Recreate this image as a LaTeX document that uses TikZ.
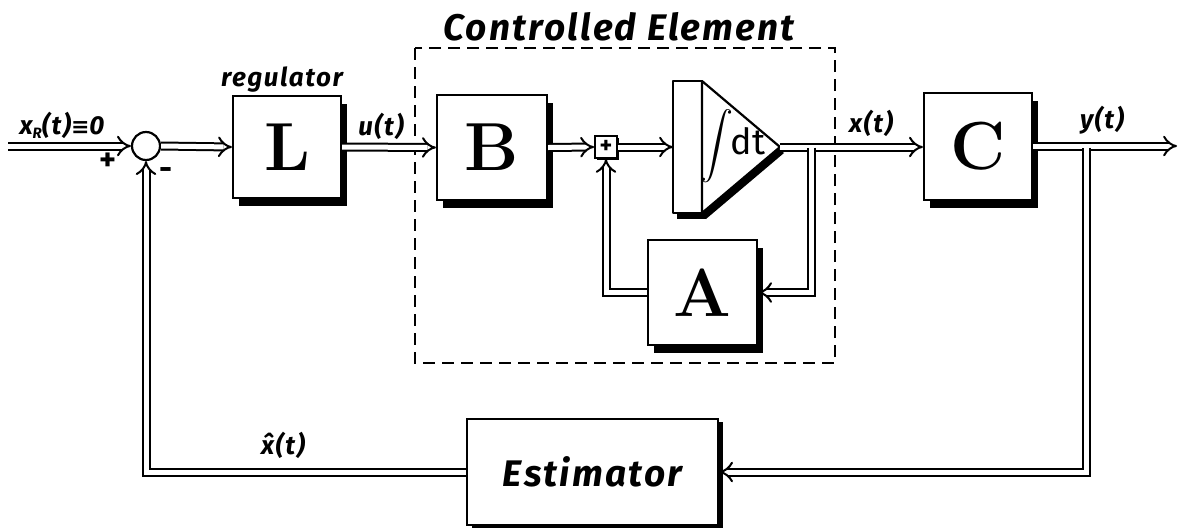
\documentclass[tikz,border=0pt]{standalone}
\usepackage{fontspec}
\usepackage{graphicx}
\newfontfamily\hand{Fira Sans}[LetterSpace=6]
\newfontfamily\handn{Fira Sans}
\newfontfamily\symf{DejaVu Sans}
\usetikzlibrary{arrows.meta,shadows,calc}
\begin{document}
\begin{tikzpicture}[x=1pt,y=-1pt,
  blk/.style={draw, line width=2.2pt, fill=white, inner sep=0pt,
    font=\fontsize{68}{68}\selectfont\bfseries,
    drop shadow={shadow xshift=6pt, shadow yshift=-8pt, fill=black, opacity=1}},
  sig/.style={double distance=5pt, line width=2pt, -{Implies[scale=1.3]}},
  lab/.style={font=\hand\bfseries\itshape\fontsize{26}{26}\selectfont, inner sep=0pt},
  title/.style={font=\hand\bfseries\itshape\fontsize{37}{37}\selectfont, inner sep=0pt},
]
\useasboundingbox (0,0) rectangle (1180,531);

% dashed frame of controlled element
\draw[line width=2pt, dash pattern=on 12pt off 7pt] (415,48) rectangle (835,363);
\node[title] (cet) at (619,27) {Controlled Element};

% blocks
\node[blk, minimum width=108pt, minimum height=102pt] (L) at (287,147) {L};
\node[blk, minimum width=110pt, minimum height=105pt] (B) at (492,147.5) {B};
\node[blk, minimum width=109pt, minimum height=105pt] (A) at (702.5,292.5) {A};
\node[blk, minimum width=108pt, minimum height=107pt] (C) at (978,146.5) {C};
\node[draw, line width=2.2pt, fill=white, minimum width=251pt, minimum height=106pt,
  drop shadow={shadow xshift=5pt, shadow yshift=-3pt, fill=black, opacity=1},
  title] (E) at (592.5,472) {Estimator};

% summing junctions
\node[draw, circle, line width=2.2pt, fill=white, minimum size=28pt, inner sep=0pt] (S) at (146,146) {};
\node[draw, line width=1.8pt, fill=white, minimum size=22pt, inner sep=0pt,
  font=\handn\bfseries\fontsize{24}{24}\selectfont,
  drop shadow={shadow xshift=2pt, shadow yshift=-2pt, fill=black, opacity=1}] (P) at (606,147) {+};

% integrator
\begin{scope}[shift={(4,6)}]
  \fill (673,81) rectangle (702,213);
  \fill (702,81) -- (780,147) -- (702,213) -- cycle;
\end{scope}
\draw[line width=2.2pt, fill=white, line join=round] (673,81) rectangle (702,213);
\draw[line width=2.2pt, fill=white, line join=round] (702,81) -- (780,147) -- (702,213) -- cycle;
\node[inner sep=0pt] (intg) at (733,146) {\scalebox{3.3}{$\displaystyle\int$}\hspace{-3pt}{\handn\fontsize{36}{36}\selectfont dt}};
\coordinate (intin) at (673,147);
\coordinate (intout) at (780,147);

% coordinates for free ends and branches
\coordinate (in) at (8,146);
\coordinate (out) at (1177,146);
\coordinate (br1) at (811,147.5);
\coordinate (br2) at (1086,147.5);

% signal lines
\draw[sig] (in) -- (S.west);
\draw[sig] (S.east) -- (L.west);
\draw[sig] (L.east) -- (B.west);
\draw[sig] (B.east) -- (P.west);
\draw[sig] (P.east) -- (intin);
\draw[sig] (intout) -- (C.west |- intout);
\draw[sig] (br1) |- (A.east);
\draw[sig] (A.west) -| (P.south);
\draw[sig] (C.east |- out) -- (out);
\draw[sig] (br2) |- (E.east);
\draw[sig] (E.west) -| (S.south);

% labels
\node[lab] (lxr) at (62,125) {x\raisebox{-4pt}{\fontsize{15}{15}\selectfont R}(t){\symf\bfseries\fontsize{22}{22}\selectfont ≡}0};
\node[font=\handn\bfseries\fontsize{32}{32}\selectfont, inner sep=0pt] (lplus) at (108,162) {+};
\node[font=\handn\bfseries\fontsize{32}{32}\selectfont, inner sep=0pt] (lminus) at (166,174) {-};
\node[lab] (lreg) at (282,80) {regulator};
\node[lab] (lu) at (381,126) {u(t)};
\node[lab] (lx) at (871,123) {x(t)};
\node[lab] (ly) at (1102,120) {y(t)};
\node[lab] (lxh) at (283,445) {\^x(t)};
\end{tikzpicture}
\end{document}
